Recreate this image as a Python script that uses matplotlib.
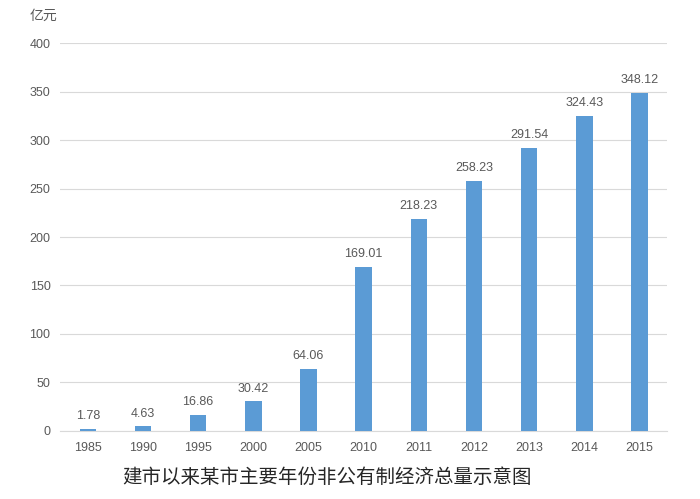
import matplotlib
matplotlib.use('Agg')
import matplotlib.pyplot as plt

plt.rcParams['font.family'] = ['Noto Sans CJK SC', 'DejaVu Sans']

years = ['1985', '1990', '1995', '2000', '2005', '2010', '2011', '2012', '2013', '2014', '2015']
values = [1.78, 4.63, 16.86, 30.42, 64.06, 169.01, 218.23, 258.23, 291.54, 324.43, 348.12]
yticks = [0, 50, 100, 150, 200, 250, 300, 350, 400]

numfont = ['Liberation Sans', 'DejaVu Sans']

fig = plt.figure(figsize=(7, 4.99), dpi=100)
ax = fig.add_axes([0.086, 0.1363, 0.867, 0.7775])

x = range(len(years))
ax.bar(x, values, width=0.30, color='#5B9BD5', zorder=3)
for xi, v in zip(x, values):
    ax.annotate('%.2f' % v, (xi, v), xytext=(0, 5), textcoords='offset points',
                ha='center', va='bottom', fontsize=9, color='#595959', family=numfont)

ax.set_xlim(-0.5, len(years) - 0.5)
ax.set_ylim(0, 400)
ax.set_yticks(yticks)
ax.set_xticks(list(x))
ax.set_xticklabels(years, family=numfont)
ax.set_yticklabels([str(t) for t in yticks], family=numfont)
ax.tick_params(axis='both', length=0, labelsize=9, labelcolor='#595959')
ax.tick_params(axis='y', pad=7)
ax.tick_params(axis='x', pad=8)
ax.grid(axis='y', color='#D9D9D9', linewidth=0.8, zorder=0)
for side in ['top', 'right', 'left']:
    ax.spines[side].set_visible(False)
ax.spines['bottom'].set_color('#D9D9D9')

fig.text(0.043, 0.968, '亿元', fontsize=10, color='#595959', ha='left', va='center')
fig.text(0.467, 0.044, '建市以来某市主要年份非公有制经济总量示意图', fontsize=14, color='#262626',
         ha='center', va='center')

fig.savefig('out.png', dpi=100)
